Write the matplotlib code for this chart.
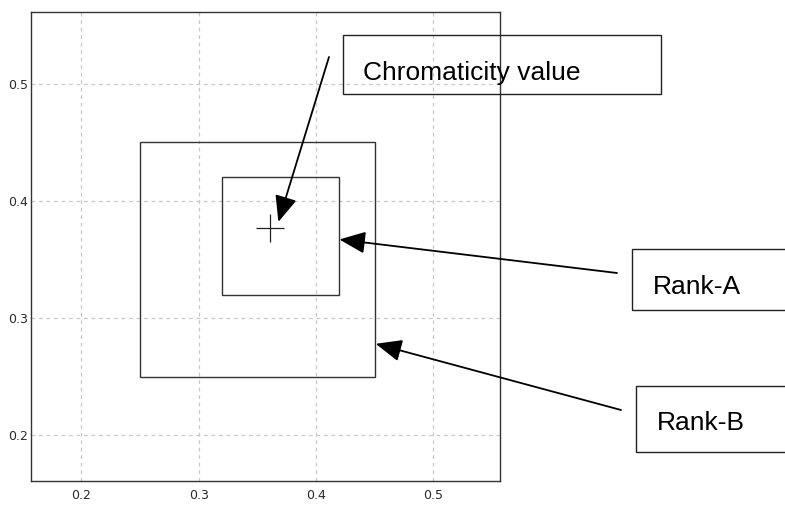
import matplotlib.pyplot as plt
from matplotlib.patches import Rectangle

# rank areas (x0, x1, y0, y1) and the measured chromaticity point
rank_a = [0.32, 0.42, 0.32, 0.42]
rank_b = [0.25, 0.45, 0.25, 0.45]
point_x = 0.361
point_y = 0.377
ticks = [0.2, 0.3, 0.4, 0.5]
tick_labels = ['0.2', '0.3', '0.4', '0.5']

W, H = 785, 505
fig = plt.figure(figsize=(W / 100, H / 100), dpi=100)
ax = fig.add_axes([31 / W, 24 / H, 469 / W, 469 / H])
ax.set_xlim(0.157, 0.557)
ax.set_ylim(0.161, 0.561)

ax.set_xticks(ticks)
ax.set_yticks(ticks)
ax.set_xticklabels(tick_labels)
ax.set_yticklabels(tick_labels)
ax.tick_params(length=0, labelsize=9, labelcolor='#2a2a2a')
ax.tick_params(axis='x', pad=6)
ax.tick_params(axis='y', pad=2)
ax.grid(True, color='#c8c8c8', linestyle=(0, (3, 3)), linewidth=0.9)
ax.set_axisbelow(True)
for s in ax.spines.values():
    s.set_color('#333333')
    s.set_linewidth(1.0)

# rank boxes
for r in (rank_b, rank_a):
    ax.add_patch(Rectangle((r[0], r[2]), r[1] - r[0], r[3] - r[2],
                           fill=False, edgecolor='#333333', linewidth=1.0))

ax.plot([point_x], [point_y], marker='+', markersize=20, mew=0.9,
        color='#222222', linestyle='none')

# label boxes in figure pixels (x, y from top, w, h)
labels = [
    ('Chromaticity value', 343, 35, 318, 59, 363, 80),
    ('Rank-A', 632, 249, 170, 61, 653, 294),
    ('Rank-B', 636, 386, 170, 66, 657, 430),
]
for txt, bx, by, bw, bh, tx, ty in labels:
    fig.patches.append(Rectangle((bx / W, 1 - (by + bh) / H), bw / W, bh / H,
                                 transform=fig.transFigure, fill=False,
                                 edgecolor='#222222', linewidth=1.0))
    fig.text(tx / W, 1 - ty / H, txt, fontsize=19, family='Liberation Sans',
             va='baseline', ha='left', color='black')

# arrows: tip in data coords, tail in figure pixels
arrows = [
    ((0.368, 0.382), (329, H - 57)),
    ((0.420, 0.367), (617, H - 273)),
    ((0.451, 0.278), (621, H - 410)),
]
for tip, tail in arrows:
    ax.annotate('', xy=tip, xycoords='data', xytext=tail,
                textcoords='figure pixels', annotation_clip=False,
                arrowprops=dict(arrowstyle='-|>,head_length=16,head_width=6.8',
                                mutation_scale=1, color='black', lw=1.3,
                                shrinkA=0, shrinkB=0))

fig.savefig('out.png', dpi=100)
